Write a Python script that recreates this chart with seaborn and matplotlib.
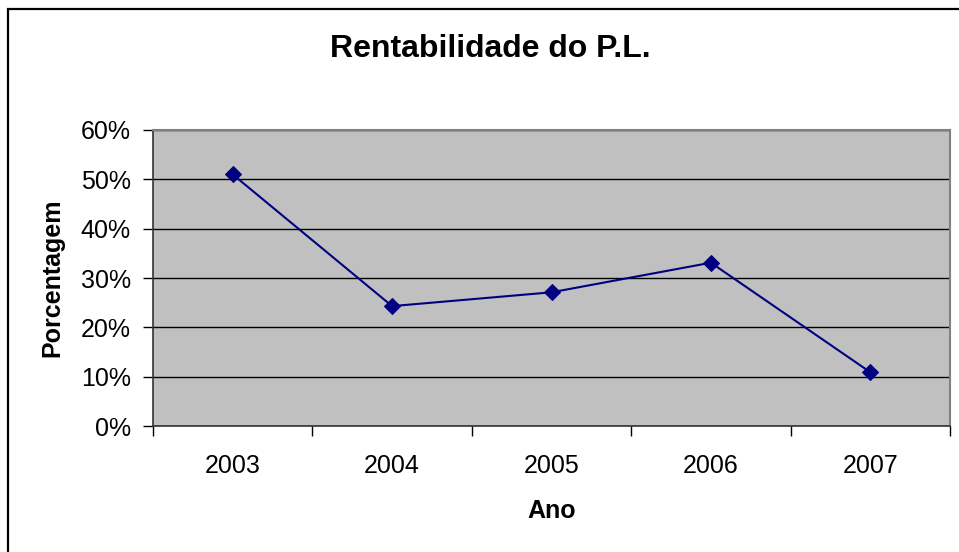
import matplotlib
matplotlib.use("Agg")
import matplotlib.pyplot as plt
import matplotlib.patches as mpatches
from matplotlib.ticker import FixedLocator, PercentFormatter
import seaborn as sns
import pandas as pd
import numpy as np

years = ["2003", "2004", "2005", "2006", "2007"]
values = [51.0, 24.3, 27.1, 33.1, 10.9]
yticks = [0, 10, 20, 30, 40, 50, 60]

sns.set_theme(style="white")
plt.rcParams['font.family'] = ['Liberation Sans', 'DejaVu Sans']

df = pd.DataFrame({"pos": np.arange(len(years)), "Ano": years, "val": values})

fig = plt.figure(figsize=(9.59, 5.52), dpi=100)
ax = fig.add_axes([153/959, (552-426)/552, (950-153)/959, (426-130)/552])
ax.set_facecolor("#C0C0C0")

sns.lineplot(data=df, x="pos", y="val", ax=ax, color="#000080", marker="D",
             markersize=8, linewidth=1.5, markeredgecolor="#000080", zorder=3)

ax.set_xlim(-0.5, len(years) - 0.5)
ax.set_ylim(0, 60)
ax.set_yticks(yticks)
ax.yaxis.set_major_formatter(PercentFormatter(decimals=0))
ax.yaxis.grid(True, color="black", linewidth=1.0)
ax.set_axisbelow(True)

ax.xaxis.set_major_locator(FixedLocator(np.arange(len(years) + 1) - 0.5))
ax.xaxis.set_minor_locator(FixedLocator(np.arange(len(years))))
ax.set_xticklabels([""] * (len(years) + 1))
ax.set_xticklabels(years, minor=True)
ax.tick_params(axis="x", which="major", direction="out", length=7, width=1, color="black", bottom=True)
ax.tick_params(axis="x", which="minor", length=0, pad=20, labelsize=18, labelcolor="black")
ax.tick_params(axis="y", which="major", direction="out", length=7, width=1, color="black", left=True,
               pad=9, labelsize=18, labelcolor="black")

for s in ["top", "right"]:
    ax.spines[s].set_color("#808080")
    ax.spines[s].set_linewidth(1.5)
for s in ["left", "bottom"]:
    ax.spines[s].set_color("#333333")
    ax.spines[s].set_linewidth(1.2)

ax.set_xlabel("Ano", fontsize=18, fontweight="bold", color="black", labelpad=15)
ax.set_ylabel("Porcentagem", fontsize=18, fontweight="bold", color="black", labelpad=12)
fig.text(490/959, 1 - 57/552, "Rentabilidade do P.L.", ha="center", va="baseline",
         fontsize=23, fontweight="bold", color="black")

frame = mpatches.Rectangle((8/959, -0.1), 1.2, (552-9)/552 + 0.1,
                           transform=fig.transFigure, fill=False, edgecolor="black",
                           linewidth=1.6, clip_on=False)
fig.patches.append(frame)

fig.savefig("out.png", dpi=100)
